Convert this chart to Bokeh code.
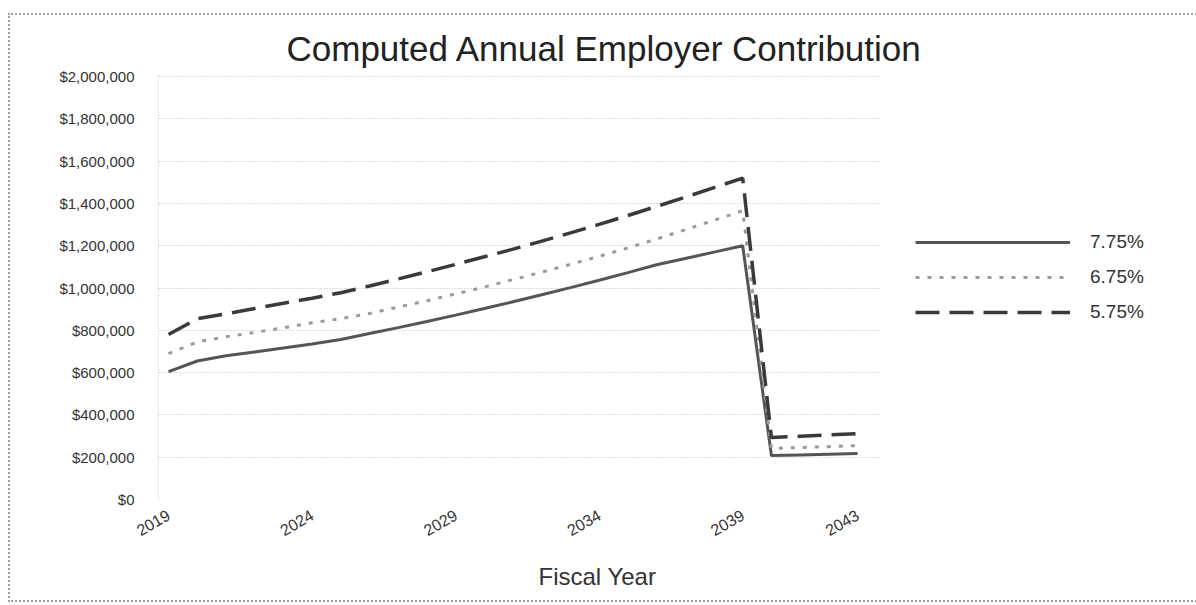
from bokeh.plotting import figure
from bokeh.models import (Range1d, FixedTicker, NumeralTickFormatter, Legend, LegendItem,
                          Title, InlineStyleSheet)
from bokeh.embed import file_html
from bokeh.resources import INLINE

years = list(range(2019, 2044))
rate_775 = [605000, 655000, 680000, 698000, 716000, 735000, 757000, 785000, 813000, 842000,
            872000, 903000, 935000, 968000, 1002000, 1037000, 1073000, 1110000, 1140000, 1170000,
            1200000, 208000, 211000, 214000, 217000]
rate_675 = [690000, 745000, 770000, 790000, 812000, 836000, 855000, 880000, 910000, 940000,
            972000, 1005000, 1040000, 1075000, 1112000, 1150000, 1190000, 1232000, 1276000, 1320000,
            1366000, 241000, 246000, 250000, 255000]
rate_575 = [780000, 855000, 878000, 903000, 928000, 952000, 978000, 1010000, 1043000, 1077000,
            1112000, 1148000, 1184000, 1222000, 1261000, 1301000, 1343000, 1386000, 1430000, 1475000,
            1520000, 293000, 299000, 305000, 312000]
series_names = ["7.75%", "6.75%", "5.75%"]
x_ticks = [2019, 2024, 2029, 2034, 2039, 2043]
y_ticks = list(range(0, 2000001, 200000))

FONT = "Liberation Sans"

frame_css = InlineStyleSheet(css="""
:host { position: relative; }
:host::after {
  content: ''; position: absolute; left: 8px; top: 13px; width: 1400px; height: 589px;
  border: 2px dotted #a0a0a0; pointer-events: none; box-sizing: border-box;
}
""")

p = figure(frame_width=722, frame_height=425, output_backend="svg", toolbar_location=None,
           x_range=Range1d(2018.65, 2043.80), y_range=Range1d(0, 2010000),
           min_border_left=158, min_border_right=316, min_border_top=74, min_border_bottom=106,
           stylesheets=[frame_css])
p.background_fill_color = "white"
p.border_fill_color = "white"
p.outline_line_color = None

# grid
p.xgrid.grid_line_color = None
p.ygrid.ticker = FixedTicker(ticks=y_ticks)
p.ygrid.grid_line_color = "#bdbdbd"
p.ygrid.grid_line_dash = "1 2"
p.ygrid.grid_line_width = 1

# axes
p.yaxis.ticker = FixedTicker(ticks=y_ticks)
p.yaxis.formatter = NumeralTickFormatter(format="$0,0")
p.xaxis.ticker = FixedTicker(ticks=x_ticks)
for ax in (p.xaxis[0], p.yaxis[0]):
    ax.major_tick_line_color = None
    ax.minor_tick_line_color = None
    ax.major_label_text_font = FONT
    ax.major_label_text_color = "#333333"
p.yaxis.major_label_text_font_size = "15px"
p.xaxis.major_label_text_font_size = "16px"
p.yaxis.axis_line_color = "#c8c8c8"
p.yaxis.axis_line_dash = "1 2"
p.yaxis.major_label_standoff = 18
p.xaxis.axis_line_color = None
p.xaxis.major_label_orientation = 0.52
p.xaxis.major_label_standoff = 8

r1 = p.line(years, rate_775, line_color="#555555", line_width=3)
r2 = p.line(years, rate_675, line_color="#9a9a9a", line_width=3, line_dash="4 8")
r3 = p.line(years, rate_575, line_color="#3a3a3a", line_width=3.5, line_dash="24 10")

legend = Legend(items=[LegendItem(label=series_names[0], renderers=[r1]),
                       LegendItem(label=series_names[1], renderers=[r2]),
                       LegendItem(label=series_names[2], renderers=[r3])],
                location=(35, 176), orientation="vertical",
                glyph_width=155, glyph_height=20, label_height=20, spacing=13,
                label_standoff=20, padding=0, margin=0,
                label_text_font=FONT, label_text_font_size="19px", label_text_color="#333333",
                border_line_color=None, background_fill_alpha=0)
p.add_layout(legend, "right")

title = Title(text="Computed Annual Employer Contribution", align="left", offset=128,
              text_font=FONT, text_font_size="35px", text_font_style="normal",
              text_color="#222222", standoff=14)
p.add_layout(title, "above")

xlabel = Title(text="Fiscal Year", align="left", offset=380,
               text_font=FONT, text_font_size="24px", text_font_style="normal",
               text_color="#333333", standoff=32)
p.add_layout(xlabel, "below")

open("out.html", "w").write(file_html(p, INLINE))
